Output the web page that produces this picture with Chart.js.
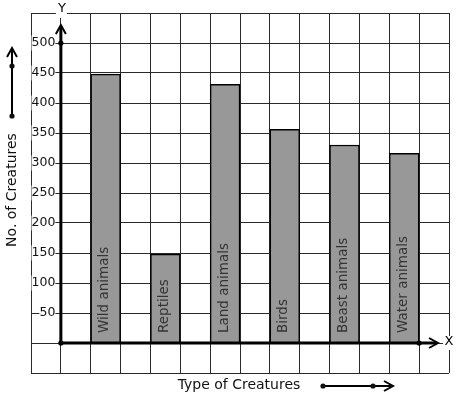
<!DOCTYPE html>
<html>
<head>
<meta charset="utf-8">
<script src="https://cdn.jsdelivr.net/npm/chart.js@4/dist/chart.umd.min.js"></script>
<style>
  body { margin: 0; background: #fff; }
  #wrap { width: 457px; height: 399px; }
</style>
</head>
<body>
<div id="wrap"><canvas id="myChart"></canvas></div>
<script>
// data
const categories = ["Wild animals", "Reptiles", "Land animals", "Birds", "Beast animals", "Water animals"];
const counts = [448, 148, 431, 356, 330, 316];
const yTickLabels = [50, 100, 150, 200, 250, 300, 350, 400, 450, 500];
const xTitle = "Type of Creatures";
const yTitle = "No. of Creatures";

const FONT = "'DejaVu Sans', Verdana, sans-serif";
const GRID = "#2a2a2a";

// each bar sits in every second cell, starting one cell right of the Y axis
const points = counts.map((v, i) => ({ x: 1.5 + 2 * i, y: v }));

function arrow(ctx, x, y, dir) {
  // dir: "up" or "right"
  ctx.beginPath();
  if (dir == "up") {
    ctx.moveTo(x - 5, y + 9);
    ctx.lineTo(x, y);
    ctx.lineTo(x + 5, y + 9);
  } else {
    ctx.moveTo(x - 9, y - 5);
    ctx.lineTo(x, y);
    ctx.lineTo(x - 9, y + 5);
  }
  ctx.stroke();
}
function dot(ctx, x, y) {
  ctx.beginPath();
  ctx.arc(x, y, 2.6, 0, Math.PI * 2);
  ctx.fill();
}

const decorations = {
  id: "decorations",
  afterDatasetsDraw(chart) {
    const ctx = chart.ctx;
    const meta = chart.getDatasetMeta(0);
    const xs = chart.scales.x;
    const ys = chart.scales.y;
    const x0 = xs.getPixelForValue(0);
    const y0 = ys.getPixelForValue(0);
    ctx.save();

    // labels inside the bars
    ctx.fillStyle = "#333";
    ctx.font = "13.5px " + FONT;
    ctx.textAlign = "left";
    ctx.textBaseline = "middle";
    meta.data.forEach((bar, i) => {
      ctx.save();
      ctx.translate(bar.x - 1, y0 - 10);
      ctx.rotate(-Math.PI / 2);
      ctx.fillText(categories[i], 0, 0);
      ctx.restore();
    });

    // the two axes
    ctx.strokeStyle = "#000";
    ctx.fillStyle = "#000";
    ctx.lineWidth = 3;
    ctx.beginPath();
    ctx.moveTo(x0, y0);
    ctx.lineTo(x0, 26);
    ctx.stroke();
    ctx.beginPath();
    ctx.moveTo(x0, y0);
    ctx.lineTo(437, y0);
    ctx.stroke();
    ctx.lineWidth = 2;
    arrow(ctx, x0, 25, "up");
    arrow(ctx, 438, y0, "right");
    dot(ctx, x0, y0);
    dot(ctx, x0, ys.getPixelForValue(500));
    dot(ctx, xs.getPixelForValue(12), y0);

    // axis letters
    ctx.font = "13px " + FONT;
    ctx.textAlign = "center";
    ctx.textBaseline = "middle";
    ctx.fillStyle = "#fff";
    ctx.fillRect(x0 - 5, 2, 11, 16);
    ctx.fillRect(443, y0 - 7, 10, 14);
    ctx.fillStyle = "#000";
    ctx.fillText("Y", x0 + 1, 9);
    ctx.fillText("X", 449, y0 - 1);

    // titles with their arrows
    ctx.font = "14px " + FONT;
    ctx.fillStyle = "#111";
    ctx.fillText(xTitle, 239, 385);
    ctx.save();
    ctx.translate(12, 190);
    ctx.rotate(-Math.PI / 2);
    ctx.fillText(yTitle, 0, 0);
    ctx.restore();

    ctx.lineWidth = 2;
    ctx.beginPath();
    ctx.moveTo(323, 386);
    ctx.lineTo(391, 386);
    ctx.stroke();
    arrow(ctx, 393, 386, "right");
    dot(ctx, 323, 386);
    dot(ctx, 373, 386);

    ctx.beginPath();
    ctx.moveTo(12, 116);
    ctx.lineTo(12, 50);
    ctx.stroke();
    arrow(ctx, 12, 48, "up");
    dot(ctx, 12, 116);
    dot(ctx, 12, 66);

    ctx.restore();
  },
};

const config = {
  type: "bar",
  data: {
    datasets: [
      {
        data: points,
        backgroundColor: "#989898",
        borderColor: "#000",
        borderWidth: 1.5,
        barPercentage: 1,
        categoryPercentage: 1,
      },
    ],
  },
  options: {
    responsive: true,
    maintainAspectRatio: false,
    animation: false,
    layout: { padding: { left: 30, right: 8, top: 13, bottom: 26 } },
    plugins: {
      legend: { display: false },
      tooltip: { enabled: false },
    },
    scales: {
      x: {
        type: "linear",
        min: -1,
        max: 13,
        offset: false,
        ticks: { display: false, stepSize: 1 },
        grid: { color: GRID, lineWidth: 1, drawTicks: false, offset: false },
        border: { display: false },
      },
      y: {
        min: -50,
        max: 550,
        ticks: {
          stepSize: 50,
          mirror: true,
          crossAlign: "far",
          padding: 0.5,
          color: "#111",
          font: { family: FONT, size: 12.5 },
          showLabelBackdrop: true,
          backdropColor: "#fff",
          backdropPadding: { top: 0, bottom: 0, left: 0, right: 0 },
          callback: (v) => (yTickLabels.includes(v) ? String(v) : ""),
        },
        grid: { color: GRID, lineWidth: 1, drawTicks: false },
        border: { display: false },
      },
    },
  },
  plugins: [decorations],
};

const context = document.getElementById("myChart").getContext("2d");
const chart = new Chart(context, config);
</script>
</body>
</html>
